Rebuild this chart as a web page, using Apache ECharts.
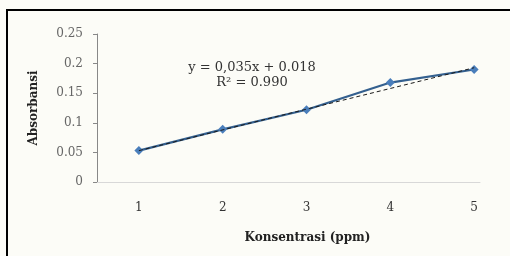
<!DOCTYPE html>
<html><head><meta charset="utf-8">
<script src="https://cdn.jsdelivr.net/npm/echarts@6/dist/echarts.min.js"></script>
<style>html,body{margin:0;padding:0;background:#fcfcf7}#c{width:510px;height:256px}</style>
</head><body><div id="c"></div>
<script>
const concentrations = [1, 2, 3, 4, 5];
const absorbance = [0.053, 0.089, 0.122, 0.168, 0.190];
const slope = 0.035, intercept = 0.018;
const yTicks = [0, 0.05, 0.1, 0.15, 0.2, 0.25];
const xTicks = [1, 2, 3, 4, 5];
const equationText = 'y = 0,035x + 0.018\nR² = 0.990';
const xTitle = 'Konsentrasi (ppm)';
const yTitle = 'Absorbansi';

const mainData = concentrations.map((x, i) => [x, absorbance[i]]);
const trendData = [concentrations[0], concentrations[concentrations.length - 1]].map(x => [x, slope * x + intercept]);

const chart = echarts.init(document.getElementById('c'), null, {renderer: 'canvas'});
const serif = '"DejaVu Serif", "Liberation Serif", serif';
chart.setOption({
  backgroundColor: '#fcfcf7',
  animation: false,
  grid: {left: 97, right: 30, top: 34, bottom: 74},
  xAxis: {
    type: 'value', min: 0.5, max: 5.07,
    splitLine: {show: false},
    axisLine: {show: true, onZero: false, lineStyle: {color: '#d8d8d8', width: 1}},
    axisTick: {show: false},
    axisLabel: {customValues: xTicks, color: '#333', fontFamily: serif, fontSize: 12, margin: 20},
    name: xTitle, nameLocation: 'middle', nameGap: 50,
    nameTextStyle: {fontFamily: serif, fontWeight: 'bold', fontSize: 12, color: '#222', padding: [0, 0, 0, 38]}
  },
  yAxis: {
    type: 'value', min: 0, max: 0.25, interval: 0.05,
    splitLine: {show: false},
    axisLine: {show: true, lineStyle: {color: '#888', width: 1}},
    axisTick: {show: true, length: 4, lineStyle: {color: '#888'}},
    axisLabel: {color: '#666', fontFamily: serif, fontSize: 12, margin: 14},
    name: yTitle, nameLocation: 'middle', nameGap: 57, nameRotate: 90,
    nameTextStyle: {fontFamily: serif, fontWeight: 'bold', fontSize: 12, color: '#222'}
  },
  graphic: [
    {type: 'rect', shape: {x: 6, y: 9, width: 2, height: 247}, style: {fill: '#000'}, z: 100},
    {type: 'rect', shape: {x: 6, y: 9, width: 504, height: 2}, style: {fill: '#000'}, z: 100},
    {type: 'text', x: 252, y: 60, style: {text: equationText, font: '13px ' + serif, fill: '#333', align: 'center', verticalAlign: 'top', lineHeight: 15}, z: 50}
  ],
  series: [
    {
      type: 'line', data: mainData,
      symbol: 'diamond', symbolSize: 9,
      lineStyle: {color: '#34608f', width: 2.2},
      itemStyle: {color: '#4a7ebb'},
      z: 3
    },
    {
      type: 'line', data: trendData, symbol: 'none',
      lineStyle: {color: '#1a1a1a', width: 1, type: [4, 3]},
      z: 4
    }
  ]
});
</script></body></html>
